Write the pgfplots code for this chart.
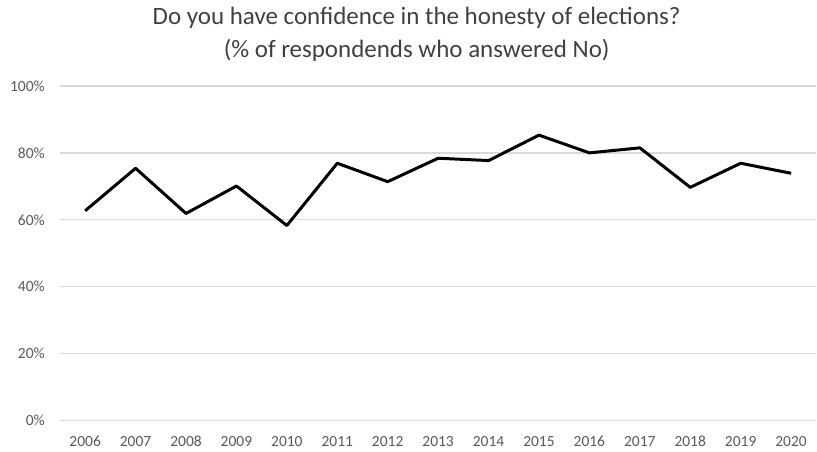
\documentclass[border=0pt]{standalone}
\usepackage{fontspec}
\setmainfont{Carlito}
\usepackage{pgfplots}
\pgfplotsset{compat=1.18}
\usetikzlibrary{calc}
\definecolor{gridc}{RGB}{217,217,217}
\definecolor{txt}{RGB}{89,89,89}
\definecolor{ttl}{RGB}{64,64,64}
\begin{document}
\begin{tikzpicture}
\begin{axis}[
  name=ax,
  at={(0,0)},
  scale only axis,
  width=757bp, height=335bp,
  xmin=2005.5, xmax=2020.5,
  ymin=0, ymax=100,
  xtick={2006,...,2020},
  ytick={0,20,40,60,80,100},
  yticklabel={\pgfmathprintnumber{\tick}\%},
  /pgf/number format/1000 sep={},
  /pgf/number format/assume math mode=true,
  ymajorgrids,
  grid style={gridc, line width=1.3bp},
  axis line style={draw=none},
  major tick length=0pt,
  tick label style={font=\fontsize{15.5bp}{18bp}\selectfont, text=txt, inner sep=0pt},
  xticklabel style={anchor=base, yshift=-25.5bp},
  yticklabel style={anchor=east, xshift=-15bp},
]
\addplot[black, line width=3bp, line join=round, mark=none] coordinates {
(2006,62.7) (2007,75.4) (2008,61.9) (2009,70.1) (2010,58.3)
(2011,76.9) (2012,71.4) (2013,78.4) (2014,77.7) (2015,85.3)
(2016,80.0) (2017,81.5) (2018,69.7) (2019,76.9) (2020,73.9)
};
\end{axis}
\node[anchor=base, text=ttl, inner sep=0pt, font=\fontsize{25bp}{30bp}\selectfont] at ($(ax.south west)+(357bp,396.5bp)$) {Do you have confidence in the honesty of elections?};
\node[anchor=base, text=ttl, inner sep=0pt, font=\fontsize{25bp}{30bp}\selectfont] at ($(ax.south west)+(357bp,363.5bp)$) {(\% of respondends who answered No)};
\path[use as bounding box] ($(ax.south west)+(-60bp,-30.5bp)$) rectangle ($(ax.north east)+(0bp,86bp)$);
\end{tikzpicture}
\end{document}
